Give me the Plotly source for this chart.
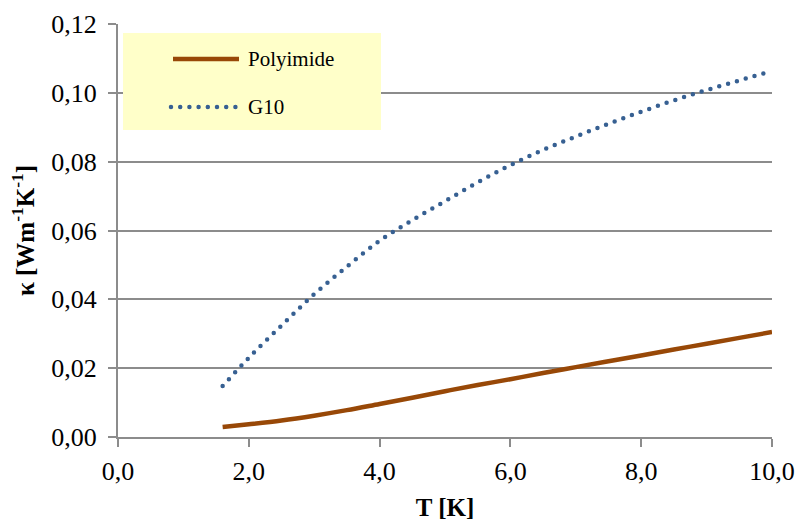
import plotly.graph_objects as go

# Thermal conductivity of two cryogenic insulators
T_K = [1.6, 2.0, 2.5, 3.0, 3.5, 4.0, 4.5, 5.0, 5.5, 6.0, 6.5, 7.0, 7.5, 8.0, 8.5, 9.0, 9.5, 10.0]
kappa_polyimide = [0.0029, 0.0037, 0.0048, 0.0062, 0.0078, 0.0096, 0.0114, 0.0133, 0.0151,
                   0.0168, 0.0186, 0.0203, 0.0220, 0.0237, 0.0254, 0.0271, 0.0288, 0.0305]
kappa_g10 = [0.0148, 0.0230, 0.0324, 0.0415, 0.0495, 0.0570, 0.0630, 0.0685, 0.0740,
             0.0790, 0.0834, 0.0873, 0.0910, 0.0945, 0.0978, 0.1008, 0.1036, 0.1063]
series_names = ["Polyimide", "G10"]
series_colors = ["#984807", "#376092"]

FONT = "Liberation Serif, Times New Roman, serif"
GRID = "#8c8c8c"
DOT = "4px,5px"

W, H = 798, 521
L, R, TOP, B = 118, 26, 24, 84

fig = go.Figure()
fig.add_trace(go.Scatter(x=T_K, y=kappa_polyimide, mode="lines", name=series_names[0],
                         line=dict(color=series_colors[0], width=4.5, shape="spline"),
                         showlegend=False))
fig.add_trace(go.Scatter(x=T_K, y=kappa_g10, mode="lines", name=series_names[1],
                         line=dict(color=series_colors[1], width=4.5, dash=DOT, shape="spline"),
                         showlegend=False))

pw, ph = W - L - R, H - TOP - B


def px_x(p):
    return (p - L) / pw


def px_y(p):
    return (H - B - p) / ph


# legend box with line samples and labels
fig.add_shape(type="rect", xref="paper", yref="paper",
              x0=px_x(123), x1=px_x(381), y0=px_y(130), y1=px_y(33),
              fillcolor="#ffffc9", line=dict(width=0), layer="above")
fig.add_shape(type="line", xref="paper", yref="paper",
              x0=px_x(173), x1=px_x(239), y0=px_y(59), y1=px_y(59),
              line=dict(color=series_colors[0], width=4.5), layer="above")
fig.add_shape(type="line", xref="paper", yref="paper",
              x0=px_x(171), x1=px_x(236), y0=px_y(107), y1=px_y(107),
              line=dict(color=series_colors[1], width=4.5, dash=DOT), layer="above")
for name, py in zip(series_names, [59, 107]):
    fig.add_annotation(text=name, xref="paper", yref="paper", x=px_x(246), y=px_y(py),
                       xanchor="left", yanchor="middle", showarrow=False,
                       font=dict(family=FONT, size=21, color="#000"))

fig.update_layout(
    width=W, height=H,
    margin=dict(l=L, r=R, t=TOP, b=B),
    paper_bgcolor="white", plot_bgcolor="white",
    separators=", ",
    font=dict(family=FONT, size=26, color="#000"),
)
fig.update_xaxes(
    range=[0, 10], dtick=2, tick0=0, tickformat=".1f",
    showgrid=False, zeroline=False, automargin=False,
    showline=True, linecolor=GRID, linewidth=2,
    ticks="outside", ticklen=8, tickwidth=2, tickcolor=GRID,
    tickfont=dict(family=FONT, size=26), ticklabelstandoff=2,
    title=dict(text="<b>T [K]</b>", font=dict(family=FONT, size=25), standoff=20),
)
fig.update_yaxes(
    range=[0, 0.12], dtick=0.02, tick0=0, tickformat=".2f",
    showgrid=True, gridcolor=GRID, gridwidth=2, zeroline=False, automargin=False,
    showline=True, linecolor=GRID, linewidth=2,
    ticks="outside", ticklen=8, tickwidth=2, tickcolor=GRID,
    tickfont=dict(family=FONT, size=26), ticklabelstandoff=6,
    title=dict(text="<b>κ [Wm<sup>-1</sup>K<sup>-1</sup>]</b>", font=dict(family=FONT, size=25),
               standoff=10),
)

# turn the dotted strokes into round dots
round_dots = """
var gd = document.getElementById('{plot_id}');
function roundDots() {
  gd.querySelectorAll('path').forEach(function (p) {
    var s = (p.style.strokeDasharray || '').replace(/\\s/g, '');
    if (s === '4px,5px') {
      p.style.strokeDasharray = '0px,9.2px';
      p.style.strokeLinecap = 'round';
    }
  });
}
roundDots();
gd.on('plotly_afterplot', roundDots);
"""

fig.write_html("out.html", post_script=round_dots)
